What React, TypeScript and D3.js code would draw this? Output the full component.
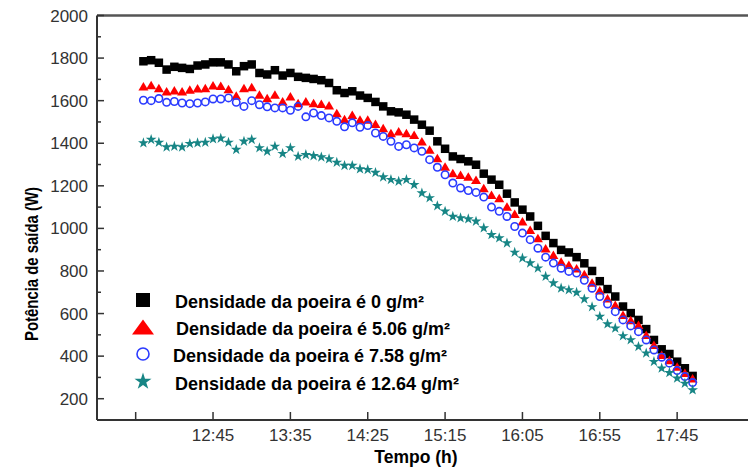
import React from 'react'
import * as d3 from 'd3'

const times = [
  '12:00', '12:05', '12:10', '12:15', '12:20', '12:25', '12:30', '12:35', '12:40', '12:45', '12:50', '12:55',
  '13:00', '13:05', '13:10', '13:15', '13:20', '13:25', '13:30', '13:35', '13:40', '13:45', '13:50', '13:55',
  '14:00', '14:05', '14:10', '14:15', '14:20', '14:25', '14:30', '14:35', '14:40', '14:45', '14:50', '14:55',
  '15:00', '15:05', '15:10', '15:15', '15:20', '15:25', '15:30', '15:35', '15:40', '15:45', '15:50', '15:55',
  '16:00', '16:05', '16:10', '16:15', '16:20', '16:25', '16:30', '16:35', '16:40', '16:45', '16:50', '16:55',
  '17:00', '17:05', '17:10', '17:15', '17:20', '17:25', '17:30', '17:35', '17:40', '17:45', '17:50', '17:55'
]

const dust0 = [
  1785, 1790, 1778, 1746, 1759, 1754, 1749, 1765, 1770, 1780, 1780, 1770,
  1738, 1762, 1770, 1730, 1723, 1743, 1718, 1730, 1712, 1707, 1702, 1696,
  1683, 1649, 1636, 1644, 1624, 1613, 1594, 1573, 1550, 1545, 1534, 1511,
  1487, 1459, 1409, 1374, 1338, 1326, 1315, 1299, 1257, 1229, 1205, 1163,
  1122, 1088, 1056, 1012, 965, 931, 899, 887, 865, 836, 800, 752,
  715, 680, 633, 602, 570, 527, 476, 432, 410, 374, 343, 307
]
const dust506 = [
  1668, 1673, 1660, 1644, 1649, 1644, 1652, 1658, 1660, 1672, 1670, 1655,
  1624, 1660, 1664, 1629, 1613, 1629, 1597, 1621, 1589, 1597, 1589, 1586,
  1578, 1542, 1514, 1534, 1511, 1511, 1492, 1472, 1448, 1456, 1448, 1440,
  1409, 1370, 1331, 1291, 1260, 1252, 1244, 1229, 1190, 1158, 1143, 1103,
  1069, 1033, 994, 955, 907, 876, 844, 829, 813, 786, 746, 710,
  672, 641, 594, 570, 547, 500, 453, 406, 382, 351, 322, 296
]
const dust758 = [
  1602, 1600, 1610, 1592, 1596, 1589, 1586, 1589, 1594, 1608, 1608, 1613,
  1592, 1573, 1600, 1581, 1571, 1566, 1566, 1555, 1573, 1524, 1542, 1530,
  1519, 1503, 1477, 1496, 1475, 1483, 1448, 1432, 1409, 1385, 1393, 1378,
  1362, 1323, 1287, 1252, 1213, 1190, 1178, 1169, 1147, 1100, 1080, 1056,
  1009, 978, 947, 907, 865, 837, 813, 798, 790, 756, 719, 680,
  645, 609, 570, 542, 515, 476, 429, 395, 367, 332, 304, 276
]
const dust1264 = [
  1401, 1417, 1404, 1382, 1385, 1382, 1398, 1401, 1404, 1420, 1423, 1404,
  1370, 1409, 1417, 1378, 1362, 1385, 1351, 1378, 1338, 1346, 1341, 1335,
  1326, 1310, 1295, 1295, 1279, 1276, 1262, 1241, 1229, 1221, 1229, 1205,
  1166, 1143, 1106, 1080, 1056, 1049, 1044, 1033, 1002, 970, 955, 931,
  887, 860, 837, 813, 774, 743, 719, 711, 699, 668, 631, 586,
  551, 531, 495, 476, 445, 414, 374, 343, 322, 296, 272, 241
]

const legendLabels = [
  'Densidade da poeira é 0 g/m²',
  'Densidade da poeira é 5.06 g/m²',
  'Densidade da poeira é 7.58 g/m²',
  'Densidade da poeira é 12.64 g/m²'
]

const xTickTimes = ['11:55', '12:45', '13:35', '14:25', '15:15', '16:05', '16:55', '17:45']
const xTickLabels = ['', '12:45', '13:35', '14:25', '15:15', '16:05', '16:55', '17:45']
const yTicks = [200, 400, 600, 800, 1000, 1200, 1400, 1600, 1800, 2000]
const yMinorTicks = [300, 500, 700, 900, 1100, 1300, 1500, 1700, 1900]

const font = 'Liberation Sans, Arial, sans-serif'

// "hh:mm" -> minutes since midnight
const toMin = (t: string) => {
  const p = t.split(':')
  return +p[0] * 60 + +p[1]
}

const triPath = (w: number, h: number) =>
  'M0,' + (-h / 2) + 'L' + (w / 2) + ',' + (h / 2) + 'L' + (-w / 2) + ',' + (h / 2) + 'Z'

const starPath = (size: number) => d3.symbol().type(d3.symbolStar).size(size)() as string

function Marker({ kind, big }: { kind: number; big?: boolean }) {
  if (kind === 0) {
    const s = big ? 14 : 8.5
    return <rect x={-s / 2} y={-s / 2} width={s} height={s} fill="#000" />
  }
  if (kind === 1) {
    return big ? <path d={triPath(22, 15)} fill="#ff0000" /> : <path d={triPath(10, 8.5)} fill="#ff0000" />
  }
  if (kind === 2) {
    return <circle r={big ? 6 : 3.7} fill="none" stroke="#2b3bff" strokeWidth={1.6} />
  }
  return <path d={starPath(big ? 90 : 36)} fill="#178585" />
}

export default function App() {
  const width = 748
  const height = 470
  const left = 97
  const bottom = 420
  const top = 15.5

  const x = d3.scaleLinear().domain([toMin('11:30'), toMin('18:35')]).range([left, 754.5])
  const y = d3.scaleLinear().domain([100, 2000]).range([bottom, top])

  const series = [dust0, dust506, dust758, dust1264]
  const legendY = [300, 327, 354, 381.5]
  const legendTextX = [175, 176, 173, 175]

  return (
    <svg width={width} height={height} style={{ position: 'absolute', left: 0, top: 0, background: '#fff' }}>
      {/* data */}
      {series.map((vals, si) => (
        <g key={si}>
          {vals.map((v, i) => (
            <g key={i} transform={'translate(' + x(toMin(times[i])) + ',' + y(v) + ')'}>
              <Marker kind={si} />
            </g>
          ))}
        </g>
      ))}

      {/* frame */}
      <line x1={left} x2={width} y1={top} y2={top} stroke="#555" strokeWidth={2.5} />
      <line x1={left} x2={width} y1={bottom} y2={bottom} stroke="#333" strokeWidth={2} />
      <line x1={left} x2={left} y1={top} y2={bottom} stroke="#333" strokeWidth={2} />

      {/* y axis */}
      {yTicks.map(t => (
        <g key={t}>
          <line x1={left} x2={left + 7} y1={y(t)} y2={y(t)} stroke="#333" strokeWidth={1.5} />
          <text x={88} y={y(t) + 6} textAnchor="end" fontFamily={font} fontSize={17} fill="#333">{t}</text>
        </g>
      ))}
      {yMinorTicks.map(t => (
        <line key={t} x1={left} x2={left + 4} y1={y(t)} y2={y(t)} stroke="#333" strokeWidth={1.5} />
      ))}

      {/* x axis */}
      {xTickTimes.map((t, i) => (
        <g key={t}>
          <line x1={x(toMin(t))} x2={x(toMin(t))} y1={bottom} y2={bottom - 8} stroke="#333" strokeWidth={1.5} />
          <text x={x(toMin(t))} y={441} textAnchor="middle" fontFamily={font} fontSize={17} fill="#333">{xTickLabels[i]}</text>
        </g>
      ))}

      <text x={416} y={463} textAnchor="middle" fontFamily={font} fontSize={17.5} fontWeight="bold">Tempo (h)</text>
      <text transform="translate(38,264) rotate(-90)" textAnchor="middle" fontFamily={font} fontSize={18} fontWeight="bold"
        textLength={154} lengthAdjust="spacingAndGlyphs">Potência de saída (W)</text>

      {/* legend */}
      {legendLabels.map((lab, i) => (
        <g key={lab}>
          <g transform={'translate(143,' + legendY[i] + ')'}>
            <Marker kind={i} big />
          </g>
          <text x={legendTextX[i]} y={legendY[i] + 8} fontFamily={font} fontSize={18} fontWeight="bold">{lab}</text>
        </g>
      ))}
    </svg>
  )
}
